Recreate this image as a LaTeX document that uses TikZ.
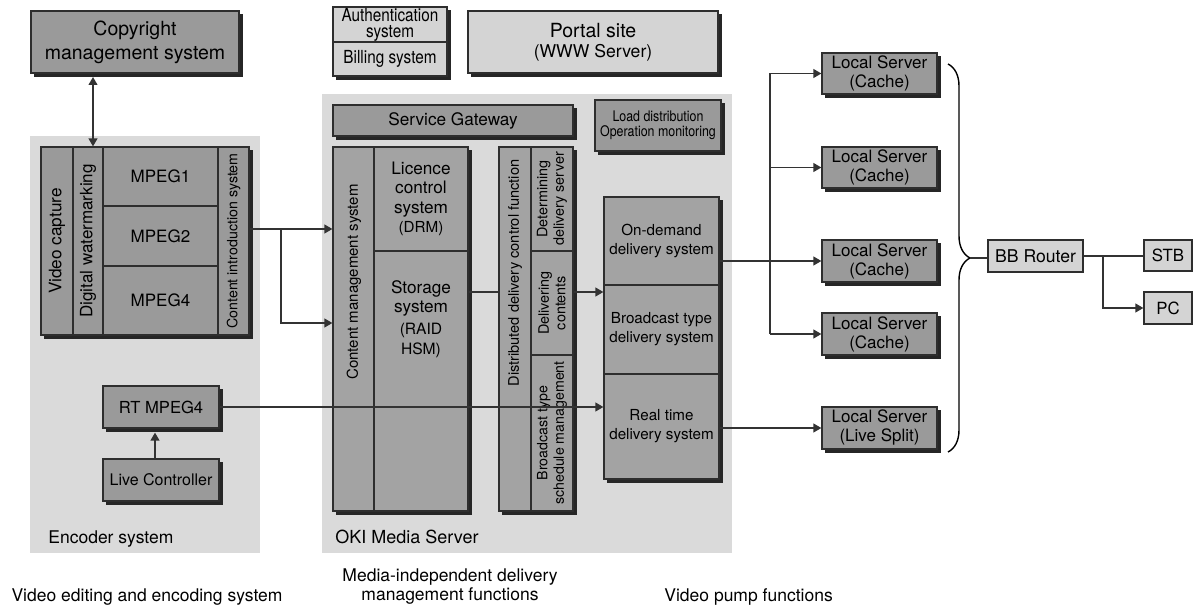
\documentclass[tikz,border=0pt]{standalone}
\usepackage{fontspec}
\setmainfont{TeX Gyre Heros}
\newfontfamily\narrowfont[FakeStretch=0.85]{TeX Gyre Heros}
\usetikzlibrary{positioning,arrows.meta,decorations.pathreplacing}

\definecolor{panelgray}{HTML}{DADADA}
\definecolor{boxdark}{HTML}{9A9A9A}
\definecolor{boxmid}{HTML}{A3A3A3}
\definecolor{boxlight}{HTML}{D4D4D4}
\definecolor{edgegray}{HTML}{2E2E2E}
\definecolor{shadowgray}{HTML}{262626}
\definecolor{linegray}{HTML}{333333}

\begin{document}
\begin{tikzpicture}[x=0.5pt, y=-0.5pt,
    sz/.style 2 args={minimum width=#1*0.5pt, minimum height=#2*0.5pt},
    panel/.style={fill=panelgray, inner sep=0pt},
    darkbox/.style={draw=edgegray, line width=0.6pt, fill=boxdark, inner sep=0pt, align=center},
    midbox/.style={darkbox, fill=boxmid},
    lightbox/.style={darkbox, fill=boxlight},
    shadowed/.style={preaction={fill=shadowgray, draw=shadowgray, transform canvas={shift={(1.6pt,-1.6pt)}}}},
    vtext/.style={rotate=90, align=center, inner sep=0pt},
    caption/.style={inner sep=0pt, align=center, font=\fontsize{8.75}{9.5}\selectfont},
    arr/.style={-{Triangle[length=4pt,width=4.4pt]}, line width=0.8pt, draw=linegray},
    biarr/.style={{Triangle[length=4pt,width=4.4pt]}-{Triangle[length=4pt,width=4.4pt]}, line width=0.8pt, draw=linegray},
    wire/.style={line width=0.8pt, draw=linegray},
  ]
  \useasboundingbox (0,0) rectangle (1194,609);

  % grey panels
  \node[panel, sz={230}{417}] (encpanel) at (145,344.5) {};
  \node[panel, sz={410}{459}] (okipanel) at (527,323.5) {};

  % top row
  \node[darkbox, shadowed, sz={208}{62}, font=\fontsize{9.75}{12}\selectfont] (copyright) at (135,42) {Copyright\\management system};
  \node[lightbox, shadowed, sz={114}{69}] (authgrp) at (390,41.5) {};
  \node[lightbox, sz={114}{35}, font=\narrowfont\fontsize{9}{8}\selectfont] (auth) at (390,24.5) {Authentication\\system};
  \node[lightbox, sz={114}{34}, font=\narrowfont\fontsize{9}{8}\selectfont] (billing) at (390,59) {Billing system};
  \node[lightbox, shadowed, sz={250}{62}, font=\fontsize{9.75}{10}\selectfont] (portal) at (593,42) {Portal site\\{\fontsize{8.8}{10}\selectfont (WWW Server)}};

  % encoder system
  \node[darkbox, shadowed, sz={208}{188}] (encgrp) at (145,241) {};
  \node[darkbox, sz={32}{188}] (vc) at (57,241) {};
  \node[darkbox, sz={30}{188}] (wm) at (88,241) {};
  \node[darkbox, sz={115}{59}, font=\fontsize{8.5}{10}\selectfont] (mpeg1) at (160.5,176.5) {MPEG1};
  \node[darkbox, sz={115}{60}, font=\fontsize{8.5}{10}\selectfont] (mpeg2) at (160.5,236) {MPEG2};
  \node[darkbox, sz={115}{69}, font=\fontsize{8.5}{10}\selectfont] (mpeg4) at (160.5,300.5) {MPEG4};
  \node[darkbox, sz={31}{188}] (intro) at (233.5,241) {};
  \node[vtext, font=\fontsize{8.6}{10}\selectfont] (vctext) at (vc.center) {Video capture};
  \node[vtext, font=\fontsize{8.5}{10}\selectfont] (wmtext) at (wm.center) {Digital watermarking};
  \node[vtext, font=\fontsize{7.1}{8}\selectfont] (introtext) at (intro.center) {Content introduction system};

  \node[darkbox, shadowed, sz={116}{42}, font=\fontsize{8.3}{10}\selectfont] (rt) at (161,407) {RT MPEG4};
  \node[darkbox, shadowed, sz={116}{42}, font=\fontsize{8}{10}\selectfont] (live) at (161,480) {Live Controller};
  \node[caption, anchor=west] (enclabel) at (48,539) {Encoder system};

  % OKI media server
  \node[darkbox, shadowed, sz={240}{31}, font=\fontsize{8.6}{10}\selectfont] (gateway) at (453,120.5) {Service Gateway};
  \node[darkbox, shadowed, sz={126}{51}, font=\narrowfont\fontsize{7.3}{7.75}\selectfont] (loaddist) at (658,125.5) {Load distribution\\Operation monitoring};

  \node[midbox, shadowed, sz={135}{364}] (cmsgrp) at (400.5,329) {};
  \node[midbox, sz={41}{364}] (cmscol) at (353.5,329) {};
  \node[midbox, sz={94}{104}, font=\fontsize{8.6}{9.75}\selectfont] (licence) at (421,199) {Licence\\control\\system\\{\fontsize{7.6}{9.75}\selectfont(DRM)}};
  \node[midbox, sz={94}{260}] (storage) at (421,381) {};
  \node[align=center, inner sep=0pt, font=\fontsize{8.6}{9.6}\selectfont] (stotext) at ([yshift=31pt]storage.center) {Storage\\system\\[1.5pt]{\fontsize{7.8}{10.5}\selectfont(RAID}\\{\fontsize{7.8}{10.5}\selectfont HSM)}};
  \node[vtext, font=\fontsize{7.5}{9}\selectfont] (cmstext) at (354,282) {Content management system};

  \node[midbox, shadowed, sz={74}{364}] (dgrp) at (536,329) {};
  \node[midbox, sz={32}{364}] (dcf) at (515,329) {};
  \node[midbox, sz={42}{104}] (det) at (552,199) {};
  \node[midbox, sz={42}{104}] (delc) at (552,303) {};
  \node[midbox, sz={42}{156}] (bsched) at (552,433) {};
  \node[vtext, font=\fontsize{7.3}{8.5}\selectfont] (dcftext) at (515,273) {Distributed delivery control function};
  \node[vtext, font=\fontsize{7.2}{8.2}\selectfont] (dettext) at (det.center) {Determining\\delivery server};
  \node[vtext, font=\fontsize{7.2}{8.2}\selectfont] (delctext) at (delc.center) {Delivering\\contents};
  \node[vtext, font=\fontsize{7.1}{8.2}\selectfont] (bschedtext) at (bsched.center) {Broadcast type\\schedule management};

  \node[midbox, shadowed, sz={115}{282}] (delgrp) at (661.5,338) {};
  \node[midbox, sz={115}{88}, font=\fontsize{7.6}{9.5}\selectfont] (ondemand) at (661.5,241) {On-demand\\delivery system};
  \node[midbox, sz={115}{89}, font=\fontsize{7.6}{9.5}\selectfont] (bcast) at (661.5,329.5) {Broadcast type\\delivery system};
  \node[midbox, sz={115}{105}, font=\fontsize{7.6}{9.5}\selectfont] (realtime) at (661.5,426.5) {Real time\\delivery system};
  \node[caption, anchor=west, font=\fontsize{9}{10}\selectfont] (okilabel) at (335,537) {OKI Media Server};

  % local servers and home side
  \node[darkbox, shadowed, sz={115}{41}, font=\fontsize{8.5}{9.5}\selectfont] (ls1) at (879.5,73.5) {Local Server\\(Cache)};
  \node[darkbox, shadowed, sz={115}{41}, font=\fontsize{8.5}{9.5}\selectfont] (ls2) at (879.5,167.5) {Local Server\\(Cache)};
  \node[darkbox, shadowed, sz={115}{42}, font=\fontsize{8.5}{9.5}\selectfont] (ls3) at (879.5,261) {Local Server\\(Cache)};
  \node[darkbox, shadowed, sz={115}{42}, font=\fontsize{8.5}{9.5}\selectfont] (ls4) at (879.5,334) {Local Server\\(Cache)};
  \node[darkbox, shadowed, sz={115}{42}, font=\fontsize{8.5}{9.5}\selectfont] (ls5) at (879.5,428) {Local Server\\(Live Split)};
  \node[lightbox, sz={95}{32}, font=\fontsize{8.8}{10}\selectfont] (router) at (1035.5,256) {BB Router};
  \node[lightbox, sz={48}{31}, font=\fontsize{8.4}{10}\selectfont] (stb) at (1168,255.5) {STB};
  \node[lightbox, sz={48}{32}, font=\fontsize{8.4}{10}\selectfont] (pc) at (1168,308) {PC};

  % captions
  \node[caption] (leftcap) at (147,597) {Video editing and encoding system};
  \node[caption] (midcap) at (450,587) {Media-independent delivery\\management functions};
  \node[caption, anchor=west] (rightcap) at (664,597) {Video pump functions};

  % connectors
  \coordinate (cpy) at (93,77);
  \draw[biarr] (cpy) -- (cpy |- wm.north);

  \coordinate (fork) at (281,229);
  \coordinate (forkdown) at (281,323);
  \draw[arr] (intro.east |- fork) -- (cmscol.west |- fork);
  \draw[arr] (fork) |- (cmscol.west |- forkdown);

  \coordinate (feed) at (486,292);
  \draw[wire] (storage.east |- feed) -- (dcf.west |- feed);
  \draw[arr] (dgrp.east |- feed) -- (delgrp.west |- feed);

  \draw[arr] (rt.east) -- (rt.east -| delgrp.west);
  \draw[arr] ([xshift=-3pt]live.north) -- ([xshift=-3pt,yshift=-2pt]rt.south);

  \coordinate (trunk) at (770,0);
  \draw[wire] (trunk |- ls1) -- (trunk |- ls4);
  \foreach \srv in {ls1,ls2,ls4}
    \draw[arr] (trunk |- \srv) -- (\srv.west);
  \draw[arr] (ondemand.east |- ls3) -- (ls3.west);
  \draw[arr] (realtime.east |- ls5) -- (ls5.west);

  \coordinate (bracetop) at (948,64);
  \coordinate (bracebot) at (948,452);
  \coordinate (bracetip) at (970,258);
  \draw[line width=0.7pt, decorate, decoration={brace, amplitude=11pt}] (bracetop) -- (bracebot);
  \draw[wire] (bracetip) -- (bracetip -| router.west);

  \draw[wire] (router.east) -- (router.east -| stb.west);
  \coordinate (rfork) at (1103,256);
  \draw[arr] (rfork) |- (pc.west);
\end{tikzpicture}
\end{document}
